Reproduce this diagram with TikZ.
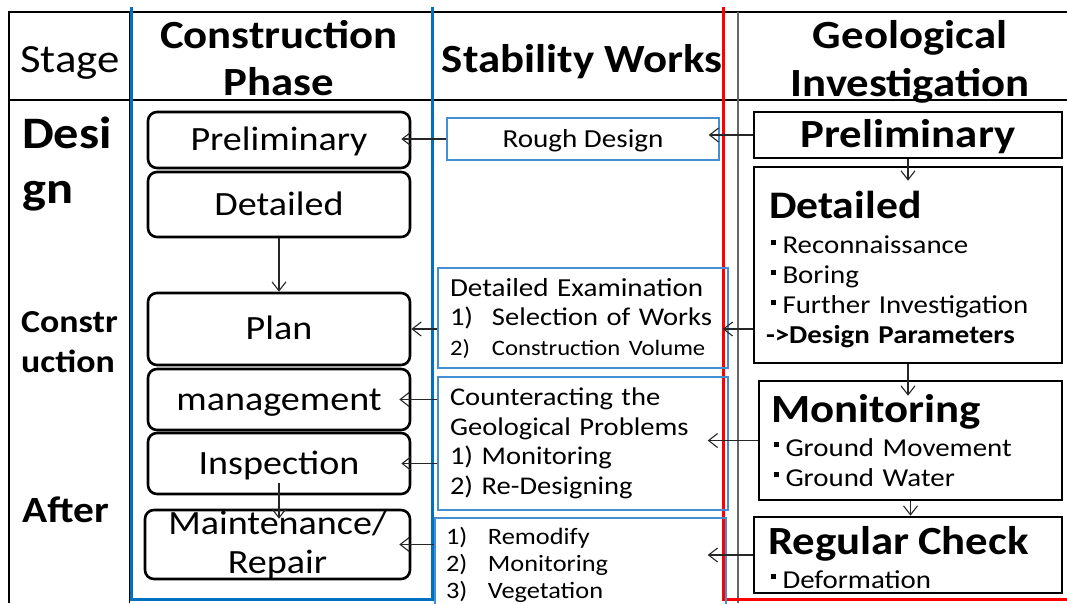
\documentclass[tikz,border=0pt]{standalone}
\usepackage{fontspec}
\setmainfont{Carlito}[FakeStretch=1.12]
\usepackage{xcolor}
\usetikzlibrary{arrows.meta}
\definecolor{colblue}{RGB}{0,112,192}
\definecolor{swblue}{RGB}{68,142,212}
\definecolor{colred}{RGB}{255,0,0}
\newcommand{\sqbul}{\rule[9pt]{4.5pt}{5pt}\hspace{7pt}}
\newcommand{\numitem}[1]{\makebox[42pt][l]{#1}}

\begin{document}
\begin{tikzpicture}[x=1pt, y=-1pt,
  cpbox/.style={draw, rounded corners=9pt, line width=2.6pt, minimum width=262pt, inner sep=0pt, align=center, font=\fontsize{34}{39}\selectfont},
  oneline/.style={text height=#1, text depth=0pt},
  swbox/.style={draw=swblue, line width=1.4pt, inner ysep=0pt, align=left, font=\fontsize{25.5}{29.5}\selectfont},
  gibox/.style={draw, line width=2.6pt, inner ysep=0pt, minimum width=308pt, align=left, font=\fontsize{25.8}{30}\selectfont},
  head/.style={inner sep=0pt, align=center, font=\fontsize{40}{47}\selectfont\bfseries},
  stagelbl/.style={inner sep=0pt, align=left},
  arr/.style={line width=1.1pt, black!85, -{Straight Barb[length=9pt,width=14pt]}}]
\useasboundingbox (0,0) rectangle (1067,603);

% table
\draw[line width=2.5pt] (9,603) -- (9,12) -- (1067,12);
\draw[line width=1.5pt] (9,100) -- (1067,100);
\draw[line width=1pt] (129,12) -- (129,603);
\draw[line width=2pt, black!60] (738,12) -- (738,603);
\draw[line width=3pt, colblue] (131,7) -- (131,599) -- (432,599) -- (432,7);
\draw[line width=3pt, colred] (723,7) -- (723,599) -- (1067,599);

% headers
\node[head, anchor=base, font=\fontsize{40}{47}\selectfont] at (70,72) (hstage) {Stage};
\node[head] at (279,58.5) (hcp) {Construction\\Phase};
\node[head, anchor=base] at (582,72) (hsw) {Stability Works};
\node[head, font=\fontsize{40}{48}\selectfont\bfseries] at (910,62) (hgi) {Geological\\Investigation};

% stages
\node[stagelbl, anchor=west, font=\fontsize{45}{55}\selectfont\bfseries] at (22,164.5) (sdesign) {Desi\\gn};
\node[stagelbl, anchor=west, font=\fontsize{32}{40}\selectfont\bfseries] at (21,342) (sconstr) {Constr\\uction};
\node[stagelbl, anchor=base west, font=\fontsize{37}{40}\selectfont\bfseries] at (22,522) (safter) {After};

% construction phase
\node[cpbox, oneline=21pt, minimum height=56pt] at (279,140) (cprelim) {Preliminary};
\node[cpbox, oneline=21pt, minimum height=65pt] at (279,204.5) (cdet) {Detailed};
\node[cpbox, oneline=21pt, minimum height=72pt] at (279,329) (cplan) {Plan};
\node[cpbox, oneline=21pt, minimum height=61pt] at (279,399.5) (cmgmt) {management};
\node[cpbox, oneline=21pt, minimum height=61pt] at (279,463.5) (cinsp) {Inspection};
\node[cpbox, minimum height=69pt, minimum width=265pt] at (277.5,544.5) (cmaint) {Maintenance/\\Repair};

% stability works
\node[swbox, oneline=16pt, align=center, minimum width=272pt, minimum height=42pt, font=\fontsize{26}{30}\selectfont] at (583,139) (rough) {Rough Design};
\node[swbox, text width=266pt, inner xsep=12pt, minimum height=100pt] at (583,318) (detex) {{\fontsize{26}{29.5}\selectfont Detailed Examination}\\\numitem{1)}Selection of Works\\{\fontsize{22}{29.5}\selectfont\numitem{2)}Construction Volume}};
\node[swbox, text width=266pt, inner xsep=12pt, minimum height=133pt] at (583,443.5) (cnt) {Counteracting the\\Geological Problems\\1) Monitoring\\2) Re-Designing};
\node[swbox, text width=269pt, inner xsep=11pt, minimum height=94pt, font=\fontsize{23.5}{27}\selectfont] at (580.5,565) (remod) {\numitem{1)}Remodify\\\numitem{2)}Monitoring\\\numitem{3)}Vegetation};

% geological investigation
\node[gibox, oneline=25pt, align=center, minimum height=46pt, font=\fontsize{40}{40}\selectfont\bfseries] at (908,135) (gprelim) {Preliminary};
\node[gibox, text width=278pt, inner xsep=15pt, minimum height=196pt] at (908,265) (gdet) {{\fontsize{39}{39}\selectfont\bfseries\rule{0pt}{37pt}Detailed}\\[5pt]\hspace*{2pt}\sqbul Reconnaissance\\\hspace*{2pt}\sqbul Boring\\\hspace*{2pt}\sqbul Further Investigation\\\hspace*{-3pt}\textbf{->Design Parameters}};
\node[gibox, text width=279pt, inner xsep=12pt, minimum width=303pt, minimum height=119pt] at (910.5,440.5) (gmon) {{\fontsize{40}{40}\selectfont\bfseries Monitoring}\\[4pt]\hspace*{3pt}\sqbul Ground Movement\\\hspace*{3pt}\sqbul Ground Water};
\node[gibox, text width=280pt, inner xsep=14pt, minimum height=76pt] at (908,555) (greg) {{\fontsize{40}{40}\selectfont\bfseries\rule{0pt}{33pt}Regular Check}\\[4pt]\hspace*{3pt}\sqbul Deformation};

% connectors
\draw[arr, shorten >=-10pt] (rough.west) -- (rough.west -| cprelim.east);
\draw[arr] (cdet) -- (cplan);
\draw[arr] (detex.west |- cplan) -- (cplan.east);
\draw[arr, shorten >=-12pt] (cnt.west |- cmgmt) -- (cmgmt.east);
\draw[arr, shorten >=-10pt] (cnt.west |- cinsp) -- (cinsp.east);
\draw[arr, shorten <=-12pt, shorten >=-10pt] (cinsp.south) -- (cinsp.south |- cmaint.north);
\draw[arr, shorten >=-12pt] (remod.west |- cmaint) -- (cmaint.east);
\draw[arr, shorten >=-11pt] (gprelim.west) -- (gprelim.west -| rough.east);
\draw[arr, shorten >=-15pt] (gprelim) -- (gdet);
\draw[arr, shorten >=-6pt] (gdet.west |- cplan) -- (detex.east |- cplan);
\draw[arr, shorten >=-16pt] (gdet.south) -- (gdet.south |- gmon.north);
\draw[arr, shorten >=-21pt] (gmon.west) -- (gmon.west -| cnt.east);
\draw[arr] (gmon.south) -- (gmon.south |- greg.north);
\draw[arr, shorten >=-19pt] (greg.west) -- (greg.west -| remod.east);

\end{tikzpicture}
\end{document}
